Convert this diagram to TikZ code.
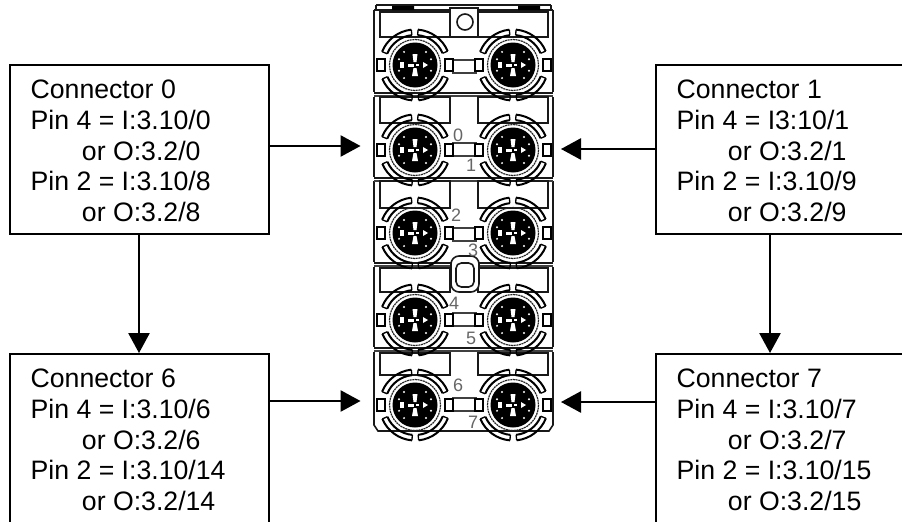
\documentclass[tikz,border=0pt]{standalone}
\usepackage{fontspec}
\setmainfont{Liberation Sans}
\usetikzlibrary{arrows.meta}
\newcommand{\boxlines}[5]{\begin{minipage}[c][126.75pt][t]{194.25pt}\setlength{\baselineskip}{23pt}\setlength{\parindent}{0pt}\fontsize{20}{23}\selectfont\vspace{11.5pt}\hspace*{15.5pt}#1\par\hspace*{15.5pt}#2\par\hspace*{54pt}#3\par\hspace*{15.5pt}#4\par\hspace*{54pt}#5\end{minipage}}
\tikzset{
  infobox/.style={draw=black,line width=1.4pt,anchor=north west,inner sep=0pt,fill=white},
  conn/.style={-{Triangle[length=15pt,width=16pt]},line width=1.2pt,black},
  devline/.style={draw=black!90,line width=1.2pt},
  devthin/.style={draw=black!75,line width=.8pt},
  digit/.style={text=black!60,font=\fontsize{13.5}{13.5}\selectfont,inner sep=0pt},
  pic12/.pic={
    \fill[black] (0,0) circle[radius=22.5];
    \draw[black!85,line width=.9pt,dash pattern=on 1.5pt off .5pt] (0,0) circle[radius=25.5];
    \foreach \a in {22,95,202,275}{
      \draw[black,line width=1.5pt] (\a:30) arc[start angle=\a,end angle=\a+62,radius=30];
      \draw[black,line width=1.5pt] (\a:35.5) arc[start angle=\a,end angle=\a+62,radius=35.5];
      \draw[black,line width=1pt] (\a:30) -- (\a:35.5);
      \draw[black,line width=1pt] (\a+62:30) -- (\a+62:35.5);
    }
    \fill[white] (-7,-1.5) rectangle (-1,1.5);
    \fill[white] (1,-1.2) rectangle (4,1.2);
    \fill[white] (-1.5,3) -- (1.5,3) -- (3,11) -- (-3,11) -- cycle;
    \fill[white] (-1.5,-3) -- (1.5,-3) -- (2.5,-11) -- (-2.5,-11) -- cycle;
    \fill[white] (8,-3) -- (13,0) -- (8,3) -- cycle;
    \fill[white] (-15,-3) rectangle (-11,3);
    \foreach \a in {20,50,130,160,200,230,310,340}{\fill[white] (\a:17) circle[radius=1.1];}
  },
}
\begin{document}
\begin{tikzpicture}[x=.75pt,y=-.75pt]
\useasboundingbox (0,0) rectangle (902,521);
\clip (0,0) rectangle (902,521);
% device frame
\draw[devline] (374,10) -- (374,92) (553,10) -- (553,92);
\draw[devline] (374,97) -- (374,177) (553,97) -- (553,177);
\draw[devline] (374,181) -- (374,262) (553,181) -- (553,262);
\draw[devline] (374,267) -- (374,347) (553,267) -- (553,347);
\draw[devline] (374,352) -- (374,425) -- (378,431) -- (549,431) -- (553,425) -- (553,352);
\draw[devline] (374,10) -- (553,10);
\draw[devline] (376,5) -- (551,5);
\draw[devline] (376,5) -- (376,10) (551,5) -- (551,10);
\fill[black] (392,6) rectangle (414,10) (518,6) rectangle (540,10);
\foreach \y in {93,178,263,348}{
  \draw[devline] (374,\y) -- (553,\y);
  \draw[devthin] (374,\y+3) -- (553,\y+3);
}
% label windows
\foreach \t/\b in {12/37,97/123,181/208,268/292,353/375}{
  \draw[devline] (380,\t) rectangle (450,\b);
  \draw[devline] (478,\t) rectangle (548,\b);
}
% top square with hole
\draw[devline,fill=white] (450,8) rectangle (478,37);
\draw[devline] (465,22) circle[radius=8];
% centre webs
\foreach \y in {60,143,228,313,398}{
  \draw[devthin,fill=white] (453,\y) rectangle (476,\y+13);
}
% connectors
\foreach \y in {65,150,233,320,405}{
  \foreach \x in {415,513}{
    \pic at (\x,\y) {pic12};
    \fill[white,draw=black,line width=1pt] (\x-38,\y-6) rectangle (\x-30,\y+6);
    \fill[white,draw=black,line width=1pt] (\x+30,\y-6) rectangle (\x+38,\y+6);
  }
}
% slot
\draw[devline,fill=white,rounded corners=6pt] (451,256) rectangle (479,292);
\draw[devline,rounded corners=4pt] (456,263) rectangle (474,287);
% digits
\node[digit] (d0) at (458,135) {0};
\node[digit] (d1) at (471,165) {1};
\node[digit] (d2) at (456,215) {2};
\node[digit] (d3) at (473,250) {3};
\node[digit] (d4) at (454,303) {4};
\node[digit] (d5) at (471,338) {5};
\node[digit] (d6) at (458,385) {6};
\node[digit] (d7) at (473,422) {7};
% info boxes
\node[infobox] (b0) at (9,64) {\boxlines{Connector 0}{Pin 4 = I:3.10/0}{or O:3.2/0}{Pin 2 = I:3.10/8}{or O:3.2/8}};
\node[infobox] (b1) at (655,64) {\boxlines{Connector 1}{Pin 4 = I3:10/1}{or O:3.2/1}{Pin 2 = I:3.10/9}{or O:3.2/9}};
\node[infobox] (b6) at (9,353) {\boxlines{Connector 6}{Pin 4 = I:3.10/6}{or O:3.2/6}{Pin 2 = I:3.10/14}{or O:3.2/14}};
\node[infobox] (b7) at (655,353) {\boxlines{Connector 7}{Pin 4 = I:3.10/7}{or O:3.2/7}{Pin 2 = I:3.10/15}{or O:3.2/15}};
% targets
\coordinate (t0) at (360.5,146);
\coordinate (t1) at (561,149);
\coordinate (t6) at (360.5,401);
\coordinate (t7) at (561,402);
\coordinate (down0) at (139,300);
\coordinate (down1) at (770,300);
\draw[conn] (b0.east |- t0) -- (t0);
\draw[conn] (b1.west |- t1) -- (t1);
\draw[conn] (b6.east |- t6) -- (t6);
\draw[conn] (b7.west |- t7) -- (t7);
\draw[conn] (b0.south -| down0) -- (b6.north -| down0);
\draw[conn] (b1.south -| down1) -- (b7.north -| down1);
\end{tikzpicture}
\end{document}
